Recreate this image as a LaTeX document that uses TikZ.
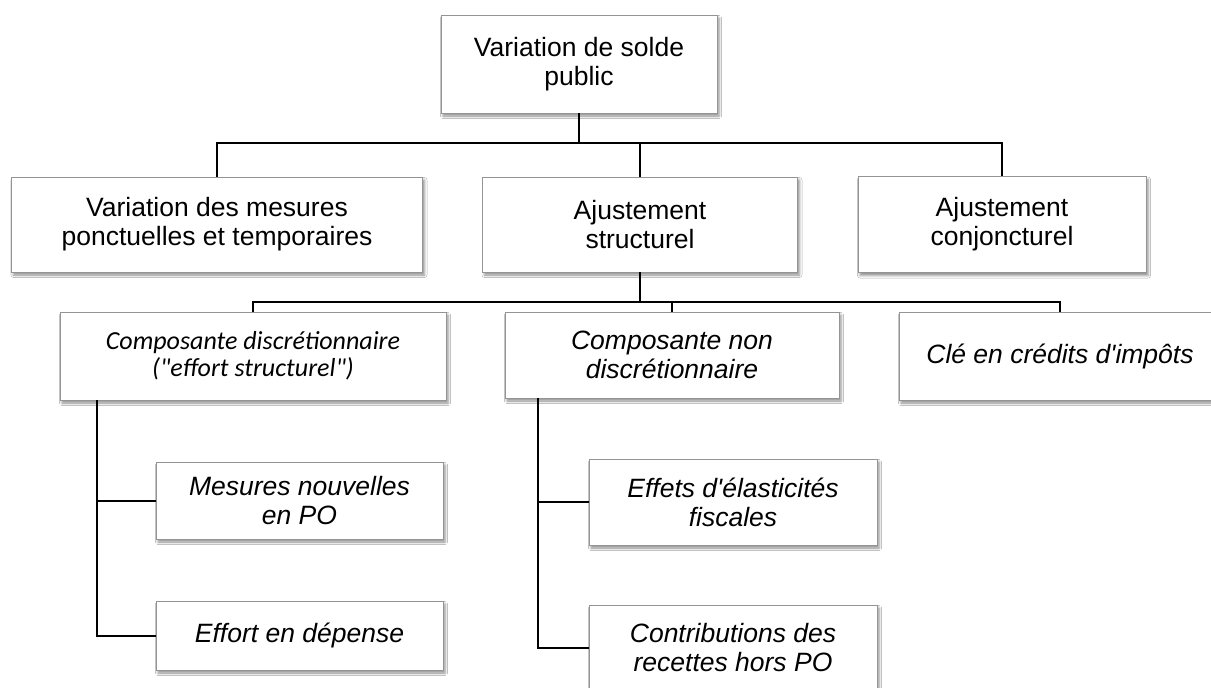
\documentclass[tikz,border=0pt]{standalone}
\usepackage{fontspec}
\setmainfont{Liberation Sans}
\newfontfamily\calibfont{Carlito}
\usetikzlibrary{shadows.blur}
\newcommand{\apos}{\textquotesingle}
\begin{document}
\begin{tikzpicture}[x=1pt,y=-1pt,
  boxstyle/.style={draw=black!42, line width=0.9pt, fill=white, inner sep=0pt,
    align=center, font=\fontsize{26.5}{29}\selectfont,
    blur shadow={shadow xshift=2pt, shadow yshift=-3pt, shadow blur radius=2.5pt, shadow opacity=45}},
  itbox/.style={boxstyle, font=\fontsize{26.5}{29}\selectfont\itshape},
  calbox/.style={boxstyle, font=\fontsize{26}{27}\selectfont\calibfont\itshape},
  link/.style={draw=black, line width=2pt}]
\clip (0,0) rectangle (1211,688);
\fill[white] (0,0) rectangle (1211,688);

% level 0
\node[boxstyle, minimum width=276pt, minimum height=98pt] (top) at (579,64) {Variation de solde\\public};

% level 1
\node[boxstyle, minimum width=411pt, minimum height=95pt] (ponct) at (217,224.5) {Variation des mesures\\ponctuelles et temporaires};
\node[boxstyle, minimum width=315pt, minimum height=95pt] (struct) at (640,224.5) {Ajustement\\structurel};
\node[boxstyle, minimum width=288pt, minimum height=96pt] (conj) at (1002,224.5) {Ajustement\\conjoncturel};

% level 2
\node[calbox, minimum width=386pt, minimum height=88pt] (discr) at (253,356) {Composante discrétionnaire\\("effort structurel")};
\node[itbox, minimum width=334pt, minimum height=86pt] (nondiscr) at (672,355) {Composante non\\discrétionnaire};
\node[itbox, minimum width=322pt, minimum height=88pt] (cle) at (1060,356) {Clé en crédits d\apos impôts};

% level 3
\node[itbox, minimum width=287pt, minimum height=77pt] (mesures) at (299.5,500.5) {Mesures nouvelles\\en PO};
\node[itbox, minimum width=287pt, minimum height=69pt] (effort) at (299.5,635.5) {Effort en dépense};
\node[itbox, minimum width=288pt, minimum height=86pt] (elast) at (733,502) {Effets d\apos élasticités\\fiscales};
\node[itbox, minimum width=288pt, minimum height=86pt] (contrib) at (733,648) {Contributions des\\recettes hors PO};

% connectors level 0 -> 1
\coordinate (b1) at (0,143);
\draw[link] (top.south) -- (top.south |- b1);
\draw[link] (ponct.north) |- (conj.north |- b1) -- (conj.north);
\draw[link] (struct.north) -- (struct.north |- b1);

% connectors level 1 -> 2
\coordinate (b2) at (0,302);
\draw[link] (struct.south) -- (struct.south |- b2);
\draw[link] (discr.north) |- (cle.north |- b2) -- (cle.north);
\draw[link] (nondiscr.north) -- (nondiscr.north |- b2);

% connectors level 2 -> 3
\coordinate (v1) at (97,0);
\draw[link] (discr.south -| v1) |- (effort.west);
\draw[link] (mesures.west -| v1) -- (mesures.west);
\coordinate (v2) at (538,0);
\draw[link] (nondiscr.south -| v2) |- (contrib.west);
\draw[link] (elast.west -| v2) -- (elast.west);
\end{tikzpicture}
\end{document}
